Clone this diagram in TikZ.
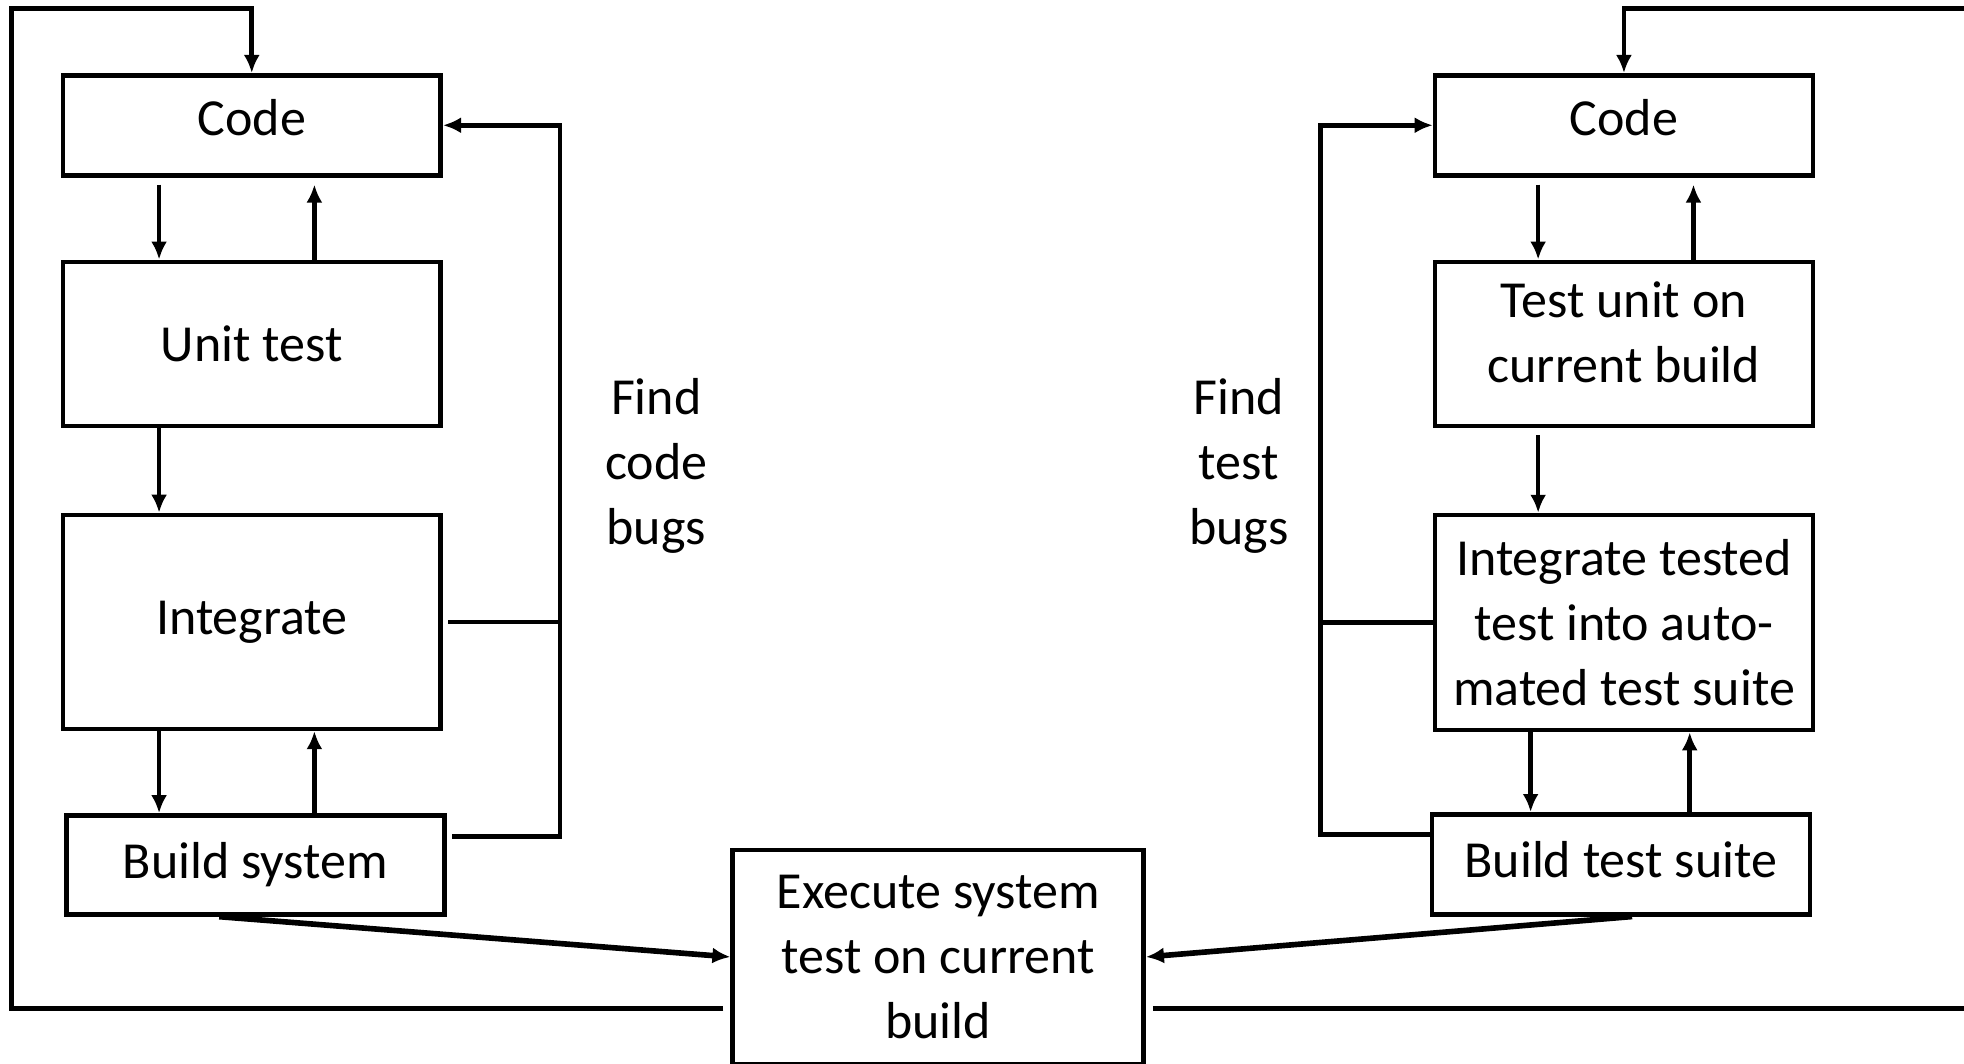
\documentclass[tikz,border=0pt]{standalone}
\usepackage{fontspec}
\setmainfont{Carlito}
\usetikzlibrary{arrows.meta}

\begin{document}
\begin{tikzpicture}[x=0.01253cm,y=-0.01253cm,
  box/.style={draw,line width=1.3pt,minimum width=3.78cm,inner sep=0pt,
    align=center,font=\fontsize{14.8}{18.4}\selectfont},
  arr/.style={line width=1.3pt,-{Latex[length=1.8mm,width=1.6mm]}},
  link/.style={line width=1.3pt}]

  \useasboundingbox (0,0) rectangle (1568,849);

  % left column
  \node[box,minimum height=1.00cm,text depth=0.15cm] (codeL) at (201,100) {Code};
  \node[box,minimum height=1.64cm] (unitL) at (201,274.5) {Unit test};
  \node[box,minimum height=2.14cm] (intL) at (201,496.5) {Integrate};
  \node[box,minimum height=0.99cm] (buildL) at (204,690.5) {Build system};

  % right column
  \node[box,minimum height=1.00cm,text depth=0.15cm] (codeR) at (1296.5,100) {Code};
  \node[box,minimum height=1.64cm,text depth=0.24cm] (unitR) at (1296.5,274.5) {Test unit on\\current build};
  \node[box,minimum height=2.15cm] (intR) at (1296.5,497) {Integrate tested\\test into auto-\\mated test suite};
  \node[box,minimum height=1.00cm,text depth=0.1cm] (buildR) at (1294,690) {Build test suite};

  % system test
  \node[box,minimum width=4.11cm,minimum height=2.14cm] (exec) at (749,764)
    {Execute system\\test on current\\build};

  % labels
  \node[align=center,font=\fontsize{14.8}{18.4}\selectfont] (findL) at (524,372) {Find\\code\\bugs};
  \node[align=center,font=\fontsize{14.8}{18.4}\selectfont] (findR) at (989,372) {Find\\test\\bugs};

  % up and down arrows
  \coordinate (la) at (127,0);
  \coordinate (lb) at (251,0);
  \coordinate (ra) at (1228,0);
  \coordinate (rb) at (1352,0);
  \coordinate (rc) at (1222,0);
  \coordinate (rd) at (1349,0);
  \draw[arr,shorten <=2pt] (codeL.south -| la) -- (unitL.north -| la);
  \draw[arr,shorten >=2pt] (unitL.north -| lb) -- (codeL.south -| lb);
  \draw[arr] (unitL.south -| la) -- (intL.north -| la);
  \draw[arr] (intL.south -| la) -- (buildL.north -| la);
  \draw[arr] (buildL.north -| lb) -- (intL.south -| lb);

  \draw[arr,shorten <=2pt] (codeR.south -| ra) -- (unitR.north -| ra);
  \draw[arr,shorten >=2pt] (unitR.north -| rb) -- (codeR.south -| rb);
  \draw[arr,shorten <=2pt] (unitR.south -| ra) -- (intR.north -| ra);
  \draw[arr] (intR.south -| rc) -- (buildR.north -| rc);
  \draw[arr] (buildR.north -| rd) -- (intR.south -| rd);

  % find bugs loops
  \coordinate (fbL) at (447,668);
  \coordinate (fbR) at (1054,666);
  \draw[arr,link,shorten <=1.5pt] (buildL.east |- fbL) -- (fbL) |- (codeL.east);
  \draw[link,shorten <=1.5pt] (intL.east) -- (intL.east -| fbL);
  \draw[arr,link] (buildR.west |- fbR) -- (fbR) |- (codeR.west);
  \draw[link] (intR.west) -- (intR.west -| fbR);

  % outer loops
  \coordinate (botL) at (9,805);
  \coordinate (topL) at (9,7);
  \coordinate (botR) at (1568,805);
  \coordinate (topR) at (1568,7);
  \draw[arr,link,shorten <=2pt] (exec.west |- botL) -- (botL) -- (topL) -| (codeL.north);
  \draw[link,shorten <=2pt] (exec.east |- botR) -- (botR);
  \draw[arr,link] (topR) -| (codeR.north);

  % builds to system test
  \coordinate (dL) at (175,0);
  \coordinate (dR) at (1303,0);
  \draw[arr,line width=1.6pt] (buildL.south -| dL) -- (exec.west);
  \draw[arr,line width=1.6pt] (buildR.south -| dR) -- (exec.east);

\end{tikzpicture}
\end{document}
